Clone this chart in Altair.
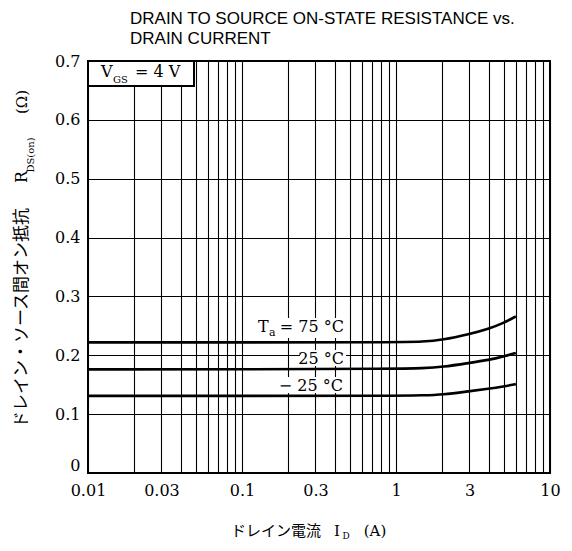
import altair as alt
import pandas as pd

# ---- data ----
I_A = [0.01, 0.1, 1, 1.5, 2, 3, 4, 5, 6]
R_75 = [0.222, 0.222, 0.222, 0.223, 0.226, 0.236, 0.245, 0.255, 0.266]
R_25 = [0.176, 0.176, 0.177, 0.178, 0.180, 0.187, 0.192, 0.198, 0.204]
R_M25 = [0.131, 0.131, 0.131, 0.132, 0.133, 0.139, 0.143, 0.147, 0.151]
SERIES = ["75", "25", "-25"]

X_TICKS = [0.01, 0.02, 0.03, 0.04, 0.05, 0.06, 0.07, 0.08, 0.09,
           0.1, 0.2, 0.3, 0.4, 0.5, 0.6, 0.7, 0.8, 0.9,
           1, 2, 3, 4, 5, 6, 7, 8, 9, 10]
X_LABEL_VALUES = [0.01, 0.03, 0.1, 0.3, 1, 3, 10]
X_LABEL_TEXT = ["0.01", "0.03", "0.1", "0.3", "1", "3", "10"]
Y_TICKS = [0, 0.1, 0.2, 0.3, 0.4, 0.5, 0.6, 0.7]
Y_LABEL_TEXT = ["0", "0.1", "0.2", "0.3", "0.4", "0.5", "0.6", "0.7"]

SERIF = "DejaVu Serif"
JP = "Noto Sans CJK JP"
SANS = "Liberation Sans"

rows = []
for name, vals in zip(SERIES, [R_75, R_25, R_M25]):
    for i, r in zip(I_A, vals):
        rows.append({"I": i, "R": r, "T": name})
df = pd.DataFrame(rows)
one = pd.DataFrame({"k": [0]})


def label_expr(values, texts):
    expr = "''"
    for v, t in zip(values, texts):
        expr = f"abs(datum.value - {v}) < 1e-9 ? '{t}' : ({expr})"
    return expr


PX0, PY0 = 88, 61  # page position of plot origin


def txt(text, x, y, size=16, font=SERIF, align="left", angle=0, baseline="middle"):
    return alt.Chart(one).mark_text(
        text=text, font=font, fontSize=size, align=align, baseline=baseline,
        angle=angle, color="black"
    ).encode(x=alt.value(x - PX0), y=alt.value(y - PY0))


def box(x1, y1, x2, y2, stroke=None, sw=0):
    kw = dict(fill="white")
    if stroke:
        kw.update(stroke=stroke, strokeWidth=sw)
    return alt.Chart(one).mark_rect(**kw).encode(
        x=alt.value(x1 - PX0), x2=alt.value(x2 - PX0),
        y=alt.value(y1 - PY0), y2=alt.value(y2 - PY0))


x_enc = alt.X("I:Q", scale=alt.Scale(type="log", domain=[0.01, 10]),
              axis=alt.Axis(values=X_TICKS, labelExpr=label_expr(X_LABEL_VALUES, X_LABEL_TEXT),
                            title=None, grid=True, gridColor="black", gridWidth=1.1,
                            gridOpacity=1, ticks=False, domain=False, labelFont=SERIF,
                            labelFontSize=16, labelColor="black", labelPadding=9,
                            labelOverlap=False, labelFlush=False))
y_enc = alt.Y("R:Q", scale=alt.Scale(domain=[0, 0.7], nice=False, zero=True),
              axis=alt.Axis(values=Y_TICKS, labelExpr=label_expr(Y_TICKS, Y_LABEL_TEXT),
                            title=None, grid=True, gridColor="black", gridWidth=1.1,
                            gridOpacity=1, ticks=False, domain=False, labelFont=SERIF,
                            labelFontSize=16, labelColor="black", labelPadding=8,
                            labelBaseline=alt.ExprRef(expr="datum.value == 0 ? 'bottom' : 'middle'"),
                            labelOverlap=False, labelFlush=False))

lines = alt.Chart(df).mark_line(color="black", strokeWidth=2.6, interpolate="basis").encode(
    x=x_enc, y=y_enc, detail="T:N")

layers = [
    box(256, 318, 346, 338),
    box(300, 350, 346, 366),
    box(283, 377, 345, 393),
    lines,
    box(88, 61, 194, 86, stroke="black", sw=2),
    # VGS label
    txt("V", 101, 72), txt("GS", 113, 80, size=10), txt("= 4 V", 135, 72),
    # curve labels
    txt("T", 258, 327), txt("a", 269, 333, size=11), txt("= 75 °C", 344, 327, align="right"),
    txt("25 °C", 344, 359, align="right"),
    txt("− 25 °C", 343, 386, align="right"),
    # title
    txt("DRAIN TO SOURCE ON-STATE RESISTANCE vs.", 130, 19, size=17, font=SANS),
    txt("DRAIN CURRENT", 130, 39, size=17, font=SANS),
    # y title (rotated)
    txt("ドレイン・ソース間オン抵抗", 22, 318, size=17, font=JP, align="center", angle=270),
    txt("R", 22, 177, size=16, align="center", angle=270),
    txt("DS(on)", 31, 155, size=10, align="center", angle=270),
    txt("(Ω)", 22, 102, size=15, align="center", angle=270),
    # x title
    txt("ドレイン電流", 276, 531, size=15, font=JP, align="center"),
    txt("I", 337, 531, size=15, align="center"),
    txt("D", 346, 536, size=9, align="center"),
    txt("(A)", 375, 531, size=15, align="center"),
]

chart = alt.layer(*layers).properties(
    width=462, height=412,
    autosize=alt.AutoSizeParams(type="none"),
    padding={"left": 80, "top": 53, "right": 14, "bottom": 70},
).configure_view(stroke="black", strokeWidth=2)

chart.save("out.html", embed_options={"renderer": "svg", "actions": False})
